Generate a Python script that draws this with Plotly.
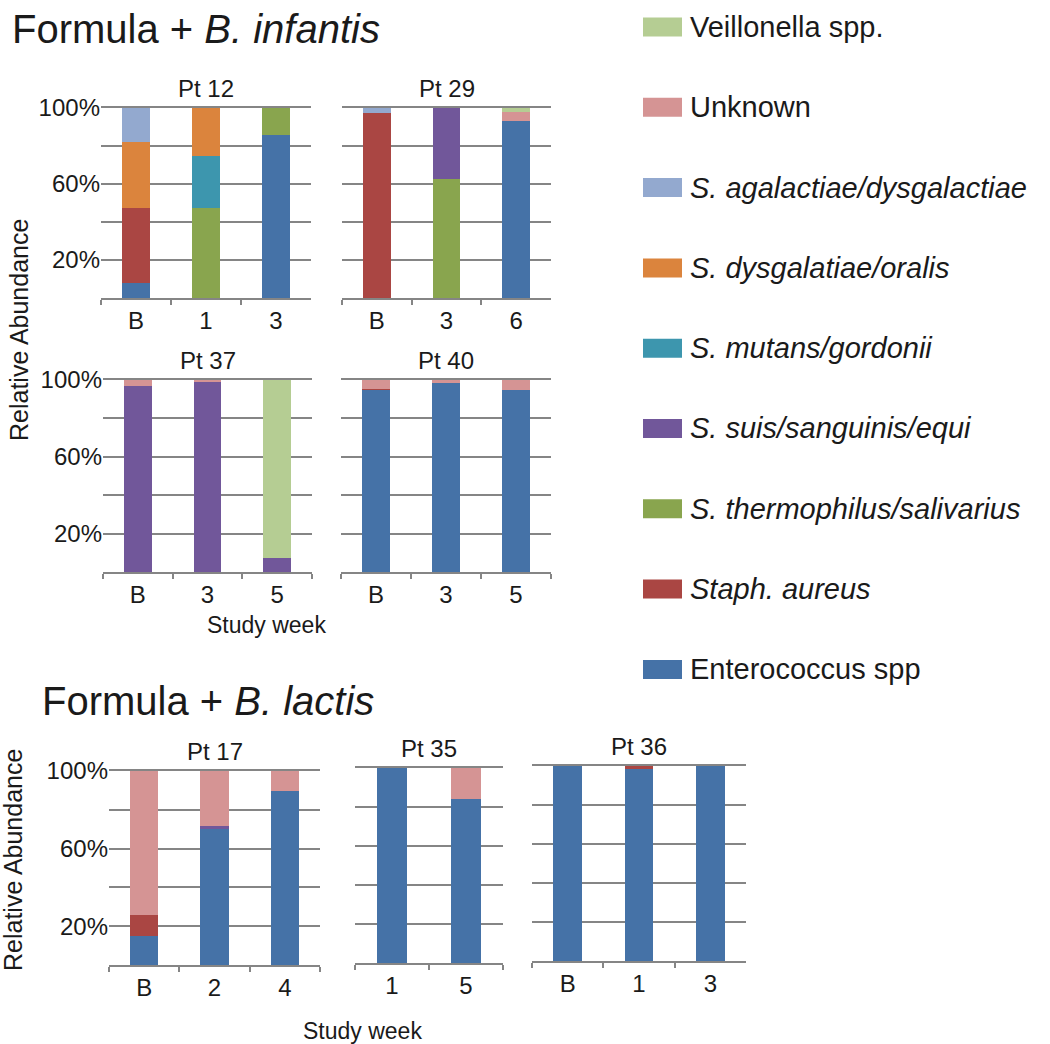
import plotly.graph_objects as go

# one entry per bar: patient and study week
patients = (['Pt 12'] * 3 + ['Pt 29'] * 3 + ['Pt 37'] * 3 + ['Pt 40'] * 3
            + ['Pt 17'] * 3 + ['Pt 35'] * 2 + ['Pt 36'] * 3)
weeks = ['B', '1', '3', 'B', '3', '6', 'B', '3', '5', 'B', '3', '5',
         'B', '2', '4', '1', '5', 'B', '1', '3']

# relative abundance (%) per taxon, same order as the bars above
enterococcus = [8, 0, 86, 0, 0, 93, 0, 0, 0, 95, 98.6, 95, 15, 70.5, 89.5, 100, 84, 100, 98.5, 100]
staph_aureus = [39.5, 0, 0, 97.4, 0, 0, 0, 0, 0, 0.5, 0, 0, 11, 0, 0, 0, 0, 0, 1.5, 0]
thermophilus = [0, 47.5, 14, 0, 62.5, 0, 0, 0, 0, 0, 0, 0, 0, 0, 0, 0, 0, 0, 0, 0]
suis = [0, 0, 0, 0, 37.5, 0, 96.7, 99, 7.4, 0, 0, 0, 0, 1, 0, 0, 0, 0, 0, 0]
mutans = [0, 27.5, 0, 0, 0, 0, 0, 0, 0, 0, 0, 0, 0, 0, 0, 0, 0, 0, 0, 0]
dysgalatiae = [34.5, 25, 0, 0, 0, 0, 0, 0, 0, 0, 0, 0, 0, 0, 0, 0, 0, 0, 0, 0]
agalactiae = [18, 0, 0, 2.6, 0, 0, 0, 0, 0, 0, 0, 0, 0, 0, 0, 0, 0, 0, 0, 0]
unknown = [0, 0, 0, 0, 0, 5, 3.3, 1, 0, 4.5, 1.4, 5, 74, 28.5, 10.5, 0, 16, 0, 0, 0]
veillonella = [0, 0, 0, 0, 0, 2, 0, 0, 92.6, 0, 0, 0, 0, 0, 0, 0, 0, 0, 0, 0]

# stacking order bottom -> top
taxa = [
    ('Enterococcus spp', enterococcus, '#4572A7'),
    ('<i>Staph. aureus</i>', staph_aureus, '#AA4643'),
    ('<i>S. thermophilus/salivarius</i>', thermophilus, '#89A54E'),
    ('<i>S. suis/sanguinis/equi</i>', suis, '#71579A'),
    ('<i>S. mutans/gordonii</i>', mutans, '#3D96AE'),
    ('<i>S. dysgalatiae/oralis</i>', dysgalatiae, '#DB843D'),
    ('<i>S. agalactiae/dysgalactiae</i>', agalactiae, '#93A9CF'),
    ('Unknown', unknown, '#D59494'),
    ('Veillonella spp.', veillonella, '#B5CD93'),
]

W, H = 1050, 1044
FONT = 'Liberation Sans, Arial, sans-serif'
GRID = '#858585'
INK = '#1a1a1a'


def fx(v):
    return v / W


def fy(v):
    return 1 - v / H


# panel name, x px range, y px range (top, bottom), y tick labels shown
panels = [
    ('Pt 12', (101, 311), (108, 298), True),
    ('Pt 29', (342, 551), (108, 298), False),
    ('Pt 37', (103, 312), (380, 572), True),
    ('Pt 40', (341, 551), (380, 572), False),
    ('Pt 17', (109, 320), (771, 965), True),
    ('Pt 35', (355, 503), (768, 963), False),
    ('Pt 36', (532, 746), (766, 961), False),
]

fig = go.Figure()
annotations = []
shapes = []
layout_axes = {}

for i, (name, (x0, x1), (y0, y1), show_y) in enumerate(panels):
    n = i + 1
    idx = [k for k, p in enumerate(patients) if p == name]
    cats = [weeks[k] for k in idx]
    for label, vals, color in taxa:
        fig.add_trace(go.Bar(
            x=cats, y=[vals[k] for k in idx], name=label,
            marker=dict(color=color, line=dict(width=0)),
            xaxis='x' if n == 1 else f'x{n}', yaxis='y' if n == 1 else f'y{n}',
            showlegend=False,
        ))
    xa = 'xaxis' if n == 1 else f'xaxis{n}'
    ya = 'yaxis' if n == 1 else f'yaxis{n}'
    # mirrored x line gives the 100% rule at the top
    layout_axes[xa] = dict(
        domain=[fx(x0), fx(x1)], anchor='y' if n == 1 else f'y{n}',
        type='category', categoryorder='array', categoryarray=cats,
        showline=True, mirror=True, linecolor=GRID, linewidth=1.5,
        ticks='outside', tickson='boundaries', ticklen=5, tickcolor=GRID, tickwidth=1.5,
        showgrid=False, tickfont=dict(family=FONT, size=24, color=INK),
        automargin=False, fixedrange=True,
    )
    layout_axes[ya] = dict(
        domain=[fy(y1), fy(y0)], anchor='x' if n == 1 else f'x{n}',
        range=[0, 100], tickvals=[0, 20, 40, 60, 80, 100],
        ticktext=['', '20%', '', '60%', '', '100%'] if show_y else [''] * 6,
        showgrid=True, gridcolor=GRID, gridwidth=1.5, zeroline=False,
        showline=False, ticks='', tickfont=dict(family=FONT, size=24, color=INK),
        automargin=False, fixedrange=True,
    )
    annotations.append(dict(
        text=name, x=fx((x0 + x1) / 2), y=fy(y0 - 20), xref='paper', yref='paper',
        xanchor='center', yanchor='middle', showarrow=False,
        font=dict(family=FONT, size=24, color=INK),
    ))

# group titles
annotations.append(dict(text='Formula + <i>B. infantis</i>', x=fx(10), y=fy(29),
                        xref='paper', yref='paper', xanchor='left', yanchor='middle',
                        showarrow=False, font=dict(family=FONT, size=40, color=INK)))
annotations.append(dict(text='Formula + <i>B. lactis</i>', x=fx(40), y=fy(701),
                        xref='paper', yref='paper', xanchor='left', yanchor='middle',
                        showarrow=False, font=dict(family=FONT, size=40, color=INK)))

# axis titles
for txt, x, y, ang, size in [('Relative Abundance', 19, 330, -90, 25),
                             ('Relative Abundance', 13, 860, -90, 25),
                             ('Study week', 266, 625, 0, 23),
                             ('Study week', 362, 1031, 0, 23)]:
    annotations.append(dict(text=txt, x=fx(x), y=fy(y), xref='paper', yref='paper',
                            xanchor='center', yanchor='middle', textangle=ang, showarrow=False,
                            font=dict(family=FONT, size=size, color=INK)))

# legend, drawn top -> bottom in reverse stacking order
for j, (label, vals, color) in enumerate(reversed(taxa)):
    cy = 27 + j * 80.3
    shapes.append(dict(type='rect', xref='paper', yref='paper',
                       x0=fx(643), x1=fx(682), y0=fy(cy + 9.5), y1=fy(cy - 9.5),
                       fillcolor=color, line=dict(width=0)))
    annotations.append(dict(text=label, x=fx(688), y=fy(cy), xref='paper', yref='paper',
                            xanchor='left', yanchor='middle', showarrow=False,
                            font=dict(family=FONT, size=29, color=INK)))

fig.update_layout(
    width=W, height=H,
    margin=dict(l=0, r=0, t=0, b=0, pad=0),
    barmode='stack', bargap=0.6,
    plot_bgcolor='white', paper_bgcolor='white',
    showlegend=False,
    annotations=annotations, shapes=shapes,
    **layout_axes,
)

fig.write_html("out.html", config={'displayModeBar': False},
               post_script="document.body.style.margin='0';")
